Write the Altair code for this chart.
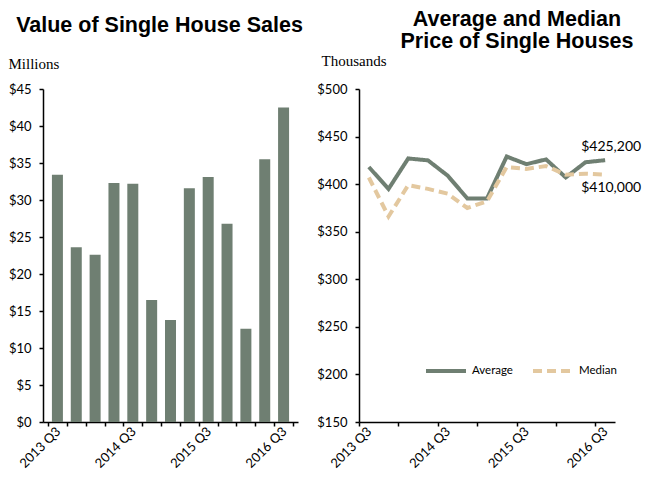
import json
import altair as alt
import pandas as pd

quarters = ["2013 Q3", "2013 Q4", "2014 Q1", "2014 Q2", "2014 Q3", "2014 Q4", "2015 Q1",
            "2015 Q2", "2015 Q3", "2015 Q4", "2016 Q1", "2016 Q2", "2016 Q3"]
sales = [33.4, 23.6, 22.6, 32.3, 32.2, 16.5, 13.8, 31.6, 33.1, 26.8, 12.6, 35.5, 42.5]
average = [418, 395, 427, 425, 409, 385, 385, 429, 421, 426, 407, 423, 425.2]
median = [407, 366, 399, 395, 390, 375, 382, 418, 416, 419, 410, 411, 410]
series = ["Average", "Median"]
end_labels = ["$425,200", "$410,000"]

BAR = "#6f7f72"
AVG = "#6f7f72"
MED = "#e3c89f"

n = len(quarters)
df_sales = pd.DataFrame({"i": list(range(n)), "quarter": quarters, "value": sales})
df_price = pd.DataFrame({
    "i": list(range(n)) * 2,
    "series": [series[0]] * n + [series[1]] * n,
    "value": average + median,
})
df_end = pd.DataFrame({
    "i": [n - 1, n - 1],
    "series": series,
    "value": [average[-1], median[-1]],
    "label": end_labels,
})

label_expr = ("(datum.value % 4 == 0 && datum.value < " + str(n) + ") ? "
              + json.dumps(quarters) + "[datum.value] : ''")


def x_enc():
    return alt.X(
        "xc:Q",
        scale=alt.Scale(domain=[0, n], nice=False, zero=False),
        axis=alt.Axis(values=list(range(n + 1)), labelExpr=label_expr, labelAngle=-45,
                      labelOffset=10, labelAlign="right", labelBaseline="middle",
                      labelPadding=3, title=None, labelOverlap=False),
    )


def y_axis(vals, title, tx, ty):
    return alt.Axis(values=vals, format="$.0f", title=title, titleAngle=0,
                    titleAlign="left", titleBaseline="alphabetic", titleX=tx, titleY=ty,
                    titleFont="Liberation Serif", titleFontWeight="normal",
                    titleFontSize=15, labelPadding=8)


title_style = dict(font="Liberation Sans", fontSize=21.5, fontWeight="bold", color="black",
                   anchor="middle", lineHeight=22)

left = alt.Chart(df_sales).transform_calculate(xc="datum.i + 0.5").mark_bar(
    width=11, color=BAR
).encode(
    x=x_enc(),
    y=alt.Y("value:Q", scale=alt.Scale(domain=[0, 45], nice=False),
            axis=y_axis(list(range(0, 46, 5)), "Millions", -35, -21)),
).properties(width=255, height=333,
             title=alt.Title("Value of Single House Sales", dx=-11, dy=-19, **title_style))

legend_cfg = dict(title=None, orient="none", legendX=381, legendY=260,
                  direction="horizontal", symbolType="stroke", symbolSize=1600,
                  symbolStrokeWidth=4, labelFont="Lato", labelFontSize=11.5,
                  labelColor="black", columnPadding=12)

lines = alt.Chart(df_price).transform_calculate(xc="datum.i + 0.5").mark_line(
    strokeWidth=4
).encode(
    x=x_enc(),
    y=alt.Y("value:Q", scale=alt.Scale(domain=[150, 500], nice=False),
            axis=y_axis(list(range(150, 501, 50)), "Thousands", -38, -24)),
    color=alt.Color("series:N", scale=alt.Scale(domain=series, range=[AVG, MED]),
                    legend=alt.Legend(**legend_cfg)),
    strokeDash=alt.StrokeDash("series:N",
                              scale=alt.Scale(domain=series, range=[[1, 0], [9, 5]]),
                              legend=alt.Legend(**legend_cfg)),
)

base_txt = alt.Chart(df_end).transform_calculate(xc="datum.i + 0.5")
txt_avg = base_txt.transform_filter(alt.datum.series == series[0]).mark_text(
    font="Lato", fontSize=14, color="black", dx=6, dy=-13
).encode(x="xc:Q", y="value:Q", text="label:N")
txt_med = base_txt.transform_filter(alt.datum.series == series[1]).mark_text(
    font="Lato", fontSize=14, color="black", dx=6, dy=13
).encode(x="xc:Q", y="value:Q", text="label:N")

right = alt.layer(lines, txt_avg, txt_med).properties(
    width=256, height=333,
    title=alt.Title(["Average and Median", "Price of Single Houses"], dx=30,
                    **title_style))

chart = alt.hconcat(left, right, spacing=8).properties(
    padding={"left": 0, "top": 0, "right": 0, "bottom": 0}
).configure_view(stroke=None).configure_axis(
    grid=False, domainColor="black", domainWidth=1.5, tickColor="black", tickSize=4,
    tickWidth=1.5, labelFont="Lato", labelFontSize=13, labelColor="black",
    titleColor="black"
).configure_title(offset=1)

chart.save("out.html", embed_options={"renderer": "svg", "actions": False})
